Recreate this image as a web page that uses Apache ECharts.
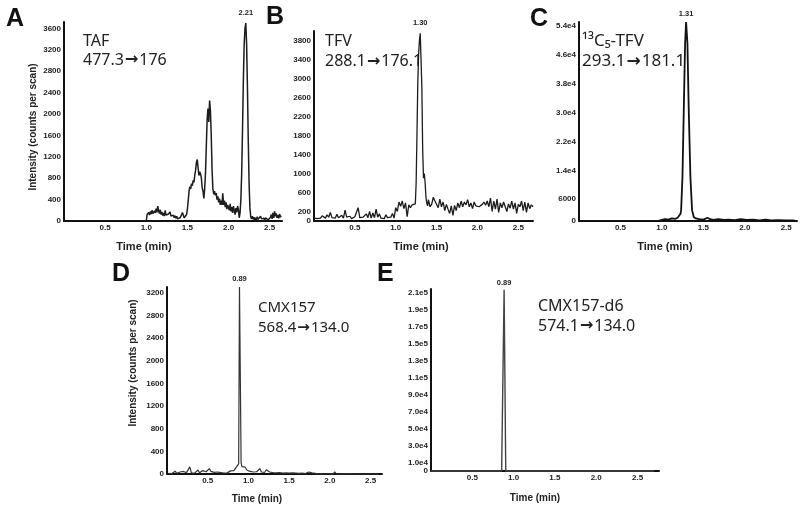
<!DOCTYPE html>
<html>
<head>
<meta charset="utf-8">
<script src="https://cdn.jsdelivr.net/npm/echarts@6/dist/echarts.min.js"></script>
<style>html,body{margin:0;padding:0;background:#fff;}#c{width:800px;height:511px;}</style>
</head>
<body>
<div id="c"></div>
<script>
// ---------- DATA ----------
// Panel A: TAF 477.3->176
const tafTime = [1.00,1.01,1.02,1.03,1.04,1.05,1.06,1.07,1.08,1.09,1.10,1.11,1.12,1.13,1.14,1.15,1.16,1.17,1.18,1.19,1.20,1.21,1.22,1.23,1.24,1.25,1.26,1.27,1.28,1.29,1.30,1.31,1.32,1.33,1.34,1.35,1.36,1.37,1.38,1.39,1.40,1.41,1.42,1.43,1.44,1.45,1.46,1.47,1.48,1.49,1.50,1.51,1.52,1.53,1.54,1.55,1.56,1.57,1.58,1.59,1.60,1.61,1.62,1.63,1.64,1.65,1.66,1.67,1.68,1.69,1.70,1.71,1.72,1.73,1.74,1.75,1.76,1.77,1.78,1.79,1.80,1.81,1.82,1.83,1.84,1.85,1.86,1.87,1.88,1.89,1.90,1.91,1.92,1.93,1.94,1.95,1.96,1.97,1.98,1.99,2.00,2.01,2.02,2.03,2.04,2.05,2.06,2.07,2.08,2.09,2.10,2.11,2.12,2.13,2.14,2.15,2.16,2.17,2.18,2.19,2.20,2.21,2.22,2.23,2.24,2.25,2.26,2.27,2.28,2.29,2.30,2.31,2.32,2.33,2.34,2.35,2.36,2.37,2.38,2.39,2.40,2.41,2.42,2.43,2.44,2.45,2.46,2.47,2.48,2.49,2.50,2.51,2.52,2.53,2.54,2.55,2.56,2.57,2.58,2.59,2.60,2.61,2.62,2.63,2.64];
const tafIntensity = [0,120,90,160,110,180,130,200,140,120,190,150,230,160,280,190,140,210,120,170,100,150,90,200,110,140,80,130,100,170,90,120,70,110,60,100,50,90,40,70,30,60,80,120,160,110,60,30,60,120,220,380,560,640,600,700,660,760,720,860,950,1100,1150,1000,850,920,880,800,620,560,420,600,900,1400,1900,2100,1850,2250,2050,1600,950,600,500,560,480,520,400,460,350,420,300,380,300,520,300,380,260,350,220,300,250,200,320,180,260,150,280,200,120,240,160,280,220,60,150,400,900,1700,2600,3300,3600,3700,3300,2500,1500,700,250,80,40,90,30,70,20,60,20,80,30,60,20,90,40,70,30,50,10,60,30,80,20,50,30,70,120,40,150,60,180,90,140,60,110,50,130,70,100];

// Panel B: TFV 288.1->176.1
const tfvTime = [0.00,0.02,0.04,0.06,0.08,0.10,0.12,0.14,0.16,0.18,0.20,0.22,0.24,0.26,0.28,0.30,0.32,0.34,0.36,0.38,0.40,0.42,0.44,0.46,0.48,0.50,0.52,0.54,0.56,0.58,0.60,0.62,0.64,0.66,0.68,0.70,0.72,0.74,0.76,0.78,0.80,0.82,0.84,0.86,0.88,0.90,0.92,0.94,0.96,0.98,1.00,1.02,1.04,1.06,1.08,1.10,1.12,1.14,1.16,1.18,1.20,1.22,1.24,1.25,1.26,1.27,1.28,1.29,1.30,1.31,1.32,1.33,1.34,1.35,1.36,1.37,1.38,1.39,1.40,1.42,1.44,1.46,1.48,1.50,1.52,1.54,1.56,1.58,1.60,1.62,1.64,1.66,1.68,1.70,1.72,1.74,1.76,1.78,1.80,1.82,1.84,1.86,1.88,1.90,1.92,1.94,1.96,1.98,2.00,2.02,2.04,2.06,2.08,2.10,2.12,2.14,2.16,2.18,2.20,2.22,2.24,2.26,2.28,2.30,2.32,2.34,2.36,2.38,2.40,2.42,2.44,2.46,2.48,2.50,2.52,2.54,2.56,2.58,2.60,2.62,2.64,2.66,2.68];
const tfvIntensity = [60,80,50,90,60,110,70,60,130,80,180,70,90,60,140,70,50,120,60,230,80,60,100,50,70,90,60,280,70,50,80,60,150,70,200,60,170,70,250,80,150,60,90,50,130,70,60,80,160,60,280,200,400,310,420,260,380,90,340,280,340,300,360,800,1800,2900,3500,3800,3950,3400,2800,1500,900,1000,800,500,380,320,450,300,350,500,420,380,280,460,300,400,220,350,250,160,320,120,330,220,380,280,420,300,400,340,450,300,380,260,400,320,360,300,280,350,400,330,420,300,480,200,420,250,460,180,380,280,400,300,200,360,270,420,250,380,160,350,300,420,220,400,180,380,260,340,300];

// Panel C: 13C5-TFV 293.1->181.1
const c13Time = [0.95,1.00,1.04,1.08,1.12,1.16,1.19,1.21,1.225,1.232,1.248,1.264,1.28,1.292,1.308,1.324,1.344,1.364,1.384,1.41,1.45,1.50,1.55,1.58,1.62,1.68,1.75,1.80,1.88,1.95,2.02,2.10,2.18,2.25,2.32,2.40,2.50,2.60];
const c13Intensity = [0,300,500,400,700,600,900,1200,2000,3000,12000,30700,49100,55000,49100,30700,12200,3000,1100,700,500,400,900,500,300,500,300,400,250,500,300,350,200,400,150,250,150,200];

// Panel D: CMX157 568.4->134.0
const cmxTime = [0.02,0.04,0.06,0.08,0.10,0.12,0.14,0.16,0.18,0.20,0.22,0.24,0.26,0.28,0.30,0.32,0.34,0.36,0.38,0.40,0.42,0.44,0.46,0.48,0.50,0.52,0.54,0.56,0.58,0.60,0.62,0.64,0.66,0.68,0.70,0.72,0.74,0.76,0.78,0.80,0.82,0.84,0.86,0.87,0.88,0.89,0.90,0.91,0.92,0.94,0.96,0.98,1.00,1.02,1.04,1.06,1.08,1.10,1.12,1.14,1.16,1.18,1.20,1.22,1.24,1.26,1.28,1.30,1.32,1.34,1.36,1.38,1.40,1.42,1.44,1.46,1.48,1.50,1.52,1.54,1.56,1.58,1.60,1.62,1.64,1.66,1.68,1.70,1.72,1.74,1.76,1.78,1.80,1.82,1.84,1.86,1.90,1.95,2.00,2.04,2.06,2.08,2.20,2.40,2.60];
const cmxIntensity = [10,25,8,30,50,12,20,35,10,45,15,25,60,125,20,40,15,30,70,20,35,60,85,40,70,95,45,80,30,20,35,15,25,40,15,50,20,30,55,25,60,90,140,110,180,3300,3300,200,130,150,120,70,60,45,70,35,55,40,60,95,35,50,30,75,90,35,45,25,40,20,50,25,35,15,40,20,35,15,30,20,45,15,25,10,40,15,20,8,25,35,10,20,5,10,5,0,5,0,5,0,40,0,5,0,0];

// Panel E: CMX157-d6 574.1->134.0
const cmxd6Time = [0.00,0.855,0.885,0.905,2.70];
const cmxd6Intensity = [0,0,213000,0,0];

// Peak labels and annotations
const peakLabels = ['2.21','1.30','1.31','0.89','0.89'];
const panelLetters = ['A','B','C','D','E'];
const compoundNames = ['TAF','TFV','\u00B9\u00B3C\u2085-TFV','CMX157','CMX157-d6'];
const transitions = ['477.3\u2192176','288.1\u2192176.1','293.1\u2192181.1','568.4\u2192134.0','574.1\u2192134.0'];
const xTickLabels = ['0.5','1.0','1.5','2.0','2.5'];
const yTitle = 'Intensity (counts per scan)';
const xTitle = 'Time (min)';

// ---------- LAYOUT ----------
const series = [
  {t: tafTime, v: tafIntensity},
  {t: tfvTime, v: tfvIntensity},
  {t: c13Time, v: c13Intensity},
  {t: cmxTime, v: cmxIntensity},
  {t: cmxd6Time, v: cmxd6Intensity}
];
const grids = [
  {left: 64, right: 518, top: 22, bottom: 290},
  {left: 314, right: 267, top: 31, bottom: 290},
  {left: 579, right: 3, top: 22, bottom: 290},
  {left: 167, right: 418, top: 287, bottom: 37},
  {left: 431, right: 141, top: 289, bottom: 40}
];
const xMax = [2.65, 2.68, 2.63, 2.64, 2.76];
const yCfg = [
  {max: 3720, interval: 400, fmt: v => (v % 400 === 0 && v <= 3600) ? String(v) : ''},
  {max: 4000, interval: 200, fmt: v => (v === 0 || (v % 400 === 200 && v <= 3800)) ? String(v) : ''},
  {max: 55000, interval: 2000, fmt: v => {
      if (v === 0) return '0';
      if ((v - 6000) % 8000 !== 0 || v > 54000) return '';
      if (v < 10000) return String(v);
      return (v / 1e4).toFixed(1) + 'e4';
    }},
  {max: 3300, interval: 400, fmt: v => (v % 400 === 0 && v <= 3200) ? String(v) : ''},
  {max: 214000, interval: 10000, fmt: v => {
      if (v === 0) return '0';
      const k = Math.round(v / 10000);
      if (k % 2 !== 1 || k > 21) return '';
      if (v < 1e5) return (v / 1e4).toFixed(1) + 'e4';
      return (v / 1e5).toFixed(1) + 'e5';
    }}
];
const labelDist = [6, 6, 4, 4, 3];
const lineW = [1.5, 1.3, 1.8, 1.2, 1.4];
const lineC = ['#1c1c1c', '#1c1c1c', '#111', '#333', '#444'];

const tickFont = {fontFamily: 'Liberation Sans, Arial, sans-serif', fontWeight: 'bold', fontSize: 8, color: '#222'};
const axisLine = {show: true, lineStyle: {color: '#111', width: 2}};

const xAxes = [], yAxes = [], seriesOpt = [];
for (let i = 0; i < 5; i++) {
  xAxes.push({
    type: 'value', gridIndex: i, min: 0, max: xMax[i], interval: 0.5,
    axisLine: axisLine, axisTick: {show: false}, splitLine: {show: false},
    axisLabel: Object.assign({margin: 3, showMaxLabel: false, formatter: v => {
      const s = v.toFixed(1);
      return (v > 0 && xTickLabels.indexOf(s) >= 0 && Math.abs(v * 2 - Math.round(v * 2)) < 1e-6) ? s : '';
    }}, tickFont)
  });
  yAxes.push({
    type: 'value', gridIndex: i, min: 0, max: yCfg[i].max, interval: yCfg[i].interval,
    axisLine: axisLine, axisTick: {show: false}, splitLine: {show: false},
    axisLabel: Object.assign({margin: 3, formatter: yCfg[i].fmt}, tickFont)
  });
  const s = series[i];
  const data = s.t.map((t, j) => [t, s.v[j]]);
  let mi = 0;
  s.v.forEach((v, j) => { if (v > s.v[mi]) mi = j; });
  seriesOpt.push({
    type: 'line', xAxisIndex: i, yAxisIndex: i, data: data,
    showSymbol: false, symbol: 'none', animation: false, clip: false,
    lineStyle: {color: lineC[i], width: lineW[i]},
    markPoint: {
      symbol: 'circle', symbolSize: 0, animation: false,
      label: {show: true, position: 'top', distance: labelDist[i], formatter: peakLabels[i],
        fontFamily: 'Liberation Sans, Arial, sans-serif', fontWeight: 'bold', fontSize: 7.5, color: '#222'},
      data: [{coord: [s.t[mi], s.v[mi]]}]
    }
  });
}

// ---------- TEXT (graphic) ----------
const letterPos = [[6, 7], [266, 5], [530, 7], [112, 262], [377, 262]];
const namePos = [[83, 41.7, 16], [325, 41.7, 16], [582, 41, 17], [258, 308, 15], [538, 306, 16]];
const transPos = [[83, 60, 16], [325, 61.7, 16], [582, 61.5, 17], [258, 328, 15], [538, 326, 16]];
const xTitlePos = [[144, 247, 11], [421, 247, 11], [665, 247, 11], [257, 499, 10], [535, 498, 10]];
const yTitlePos = [[33, 127], [133, 363]];
const annFont = 'Noto Sans, Open Sans, sans-serif';
const graphics = [];
for (let i = 0; i < 5; i++) {
  const fs = transPos[i][2];
  graphics.push({type: 'text', left: letterPos[i][0], top: letterPos[i][1], silent: true,
    style: {text: panelLetters[i], font: 'bold 25px Liberation Sans, Arial, sans-serif', fill: '#111'}});
  graphics.push({type: 'text', x: namePos[i][0], y: namePos[i][1], silent: true,
    style: {text: compoundNames[i], fontFamily: annFont, fontSize: namePos[i][2], fill: '#222', verticalAlign: 'middle', align: 'left'}});
  graphics.push({type: 'text', x: transPos[i][0], y: transPos[i][1], silent: true,
    style: {text: transitions[i].replace('\u2192', '{a|\u2192}'), fontFamily: annFont, fontSize: fs, fill: '#222',
      verticalAlign: 'middle', align: 'left',
      rich: {a: {fontFamily: 'DejaVu Sans', fontWeight: 'bold', fontSize: fs, fill: '#222', padding: [0, 1, 0, 1]}}}});
  graphics.push({type: 'text', x: xTitlePos[i][0], y: xTitlePos[i][1], silent: true,
    style: {text: xTitle, fontFamily: 'Liberation Sans, Arial, sans-serif', fontWeight: 'bold', fontSize: xTitlePos[i][2], fill: '#222', align: 'center', verticalAlign: 'middle'}});
}
yTitlePos.forEach(p => {
  graphics.push({type: 'text', x: p[0], y: p[1], rotation: Math.PI / 2, silent: true,
    style: {text: yTitle, fontFamily: 'Liberation Sans, Arial, sans-serif', fontWeight: 'bold', fontSize: 10, fill: '#222', align: 'center', verticalAlign: 'middle'}});
});

const chart = echarts.init(document.getElementById('c'), null, {renderer: 'canvas'});
chart.setOption({
  backgroundColor: '#fff',
  animation: false,
  grid: grids,
  xAxis: xAxes,
  yAxis: yAxes,
  series: seriesOpt,
  graphic: graphics
});
</script>
</body>
</html>
